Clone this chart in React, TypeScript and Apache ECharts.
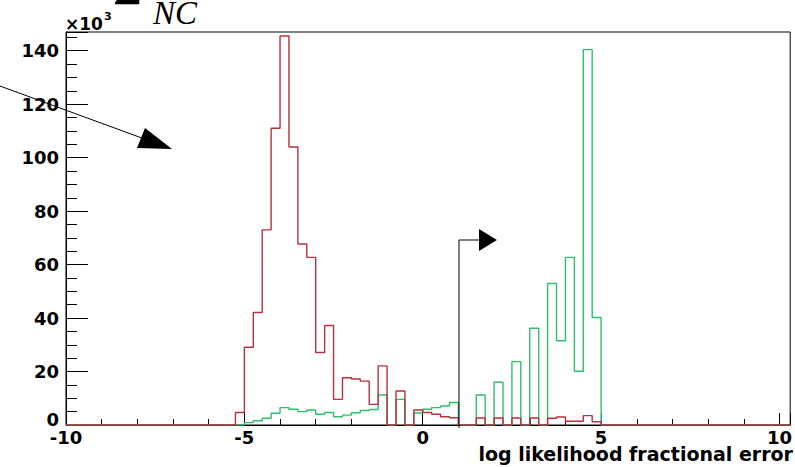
import React, { useEffect, useRef } from "react";
import * as echarts from "echarts";

// Histogram binning (lower edge of first non-empty bin, bin width), values in thousands
const binStart = -5.25;
const binWidth = 0.25;
const redCounts = [
  4.7, 29.1, 42.1, 73, 111, 145.5, 104, 67.7, 62.7, 27.1,
  37.2, 9.6, 17.7, 17.2, 16.4, 7.7, 22.1, 0, 12.7, 0,
  5.6, 4.7, 4.0, 3.1, 2.7, 0, 0, 2.6, 0, 2.6,
  0, 2.6, 0, 2.6, 0, 2.5, 3.0, 1.4, 1.4, 3.5,
  1.2,
];
const greenCounts = [
  0, 0.9, 1.6, 2.5, 4.4, 6.5, 5.9, 5.0, 5.6, 4.0,
  4.7, 3.1, 3.7, 4.6, 5.4, 5.8, 11.2, 0, 9.6, 0,
  4.5, 5.9, 6.5, 7.1, 8.4, 0, 0, 11.2, 0, 16,
  0, 23.7, 0, 36.2, 0, 52.9, 31.5, 62.7, 20.1, 140.4,
  40.2,
];
const xRange = [-10, 10.3];
const yRange = [0, 147];
const xTitle = "log likelihood fractional error";
const yScaleText = "×10";
const yScaleExp = "3";
const topText = "NC";
const sigmaText = "Σ";

function buildSteps(counts: number[]) {
  const pts: number[][] = [[xRange[0], 0]];
  counts.forEach((v, i) => pts.push([binStart + i * binWidth, v]));
  pts.push([binStart + counts.length * binWidth, 0]);
  pts.push([xRange[1], 0]);
  return pts;
}

const labelFont = {
  fontFamily: "DejaVu Sans",
  fontWeight: "bold" as const,
  fontSize: 18,
  color: "#000",
};

export default function App() {
  const ref = useRef<HTMLDivElement>(null);
  useEffect(() => {
    if (!ref.current) return;
    const chart = echarts.init(ref.current, undefined, { renderer: "svg" });
    chart.setOption({
      animation: false,
      backgroundColor: "#fff",
      grid: {
        left: 66,
        right: 1,
        top: 32,
        bottom: 42,
        show: true,
        borderColor: "#000",
        borderWidth: 1,
        backgroundColor: "transparent",
      },
      xAxis: {
        type: "value",
        min: xRange[0],
        max: xRange[1],
        interval: 5,
        axisLine: { show: true, onZero: false, lineStyle: { color: "#000", width: 1 } },
        axisTick: { show: true, inside: true, length: 12, lineStyle: { color: "#000" } },
        minorTick: { show: true, splitNumber: 5, length: 6, lineStyle: { color: "#000" } },
        splitLine: { show: false },
        axisLabel: { ...labelFont, margin: 3, showMaxLabel: false },
      },
      yAxis: {
        type: "value",
        min: yRange[0],
        max: yRange[1],
        interval: 20,
        axisLine: { show: true, onZero: false, lineStyle: { color: "#000", width: 1 } },
        axisTick: { show: true, inside: true, length: 22, lineStyle: { color: "#000" } },
        minorTick: { show: true, splitNumber: 4, length: 11, lineStyle: { color: "#000" } },
        splitLine: { show: false },
        axisLabel: {
          ...labelFont,
          margin: 7,
          showMaxLabel: false,
          formatter: (v: number) => (v === 0 ? "{z|0}" : String(v)),
          rich: {
            z: { ...labelFont, padding: [0, 0, 12, 0] },
          },
        },
      },
      series: [
        {
          name: "green",
          type: "line",
          step: "end",
          symbol: "none",
          data: buildSteps(greenCounts),
          lineStyle: { color: "#2fbf6a", width: 1.4 },
          z: 2,
        },
        {
          name: "red",
          type: "line",
          step: "end",
          symbol: "none",
          data: buildSteps(redCounts),
          lineStyle: { color: "#b8303e", width: 1.4 },
          z: 3,
        },
      ],
      graphic: [
        {
          type: "line",
          shape: { x1: 0, y1: 86, x2: 150, y2: 141 },
          style: { stroke: "#000", lineWidth: 1 },
          z: 10,
        },
        {
          type: "polygon",
          shape: { points: [[145, 128], [137, 148], [172, 149]] },
          style: { fill: "#000" },
          z: 10,
        },
        {
          type: "polyline",
          shape: { points: [[459, 428], [459, 240], [480, 240]] },
          style: { stroke: "#000", fill: null, lineWidth: 1 },
          z: 10,
        },
        {
          type: "polygon",
          shape: { points: [[479, 229], [479, 251], [497, 240]] },
          style: { fill: "#000" },
          z: 10,
        },
        {
          type: "text",
          style: {
            text: topText,
            x: 153,
            y: 13,
            font: 'italic 33px "Liberation Serif"',
            fill: "#000",
            align: "left",
            verticalAlign: "middle",
          },
          z: 10,
        },
        {
          type: "text",
          style: {
            text: sigmaText,
            x: 113,
            y: -13,
            font: '50px "Liberation Serif"',
            fill: "#000",
            align: "left",
            verticalAlign: "middle",
          },
          z: 10,
        },
        {
          type: "text",
          style: {
            text: yScaleText,
            x: 65,
            y: 24,
            font: 'bold 17px "DejaVu Sans"',
            fill: "#000",
            align: "left",
            verticalAlign: "middle",
          },
          z: 10,
        },
        {
          type: "text",
          style: {
            text: yScaleExp,
            x: 104,
            y: 16,
            font: 'bold 11px "DejaVu Sans"',
            fill: "#000",
            align: "left",
            verticalAlign: "middle",
          },
          z: 10,
        },
        {
          type: "text",
          style: {
            text: xTitle,
            x: 793,
            y: 454,
            font: 'bold 19px "DejaVu Sans"',
            fill: "#000",
            align: "right",
            verticalAlign: "middle",
          },
          z: 10,
        },
      ],
    });
    return () => chart.dispose();
  }, []);
  return (
    <div
      ref={ref}
      style={{ position: "absolute", left: 0, top: 0, width: 795, height: 467, background: "#fff" }}
    />
  );
}
